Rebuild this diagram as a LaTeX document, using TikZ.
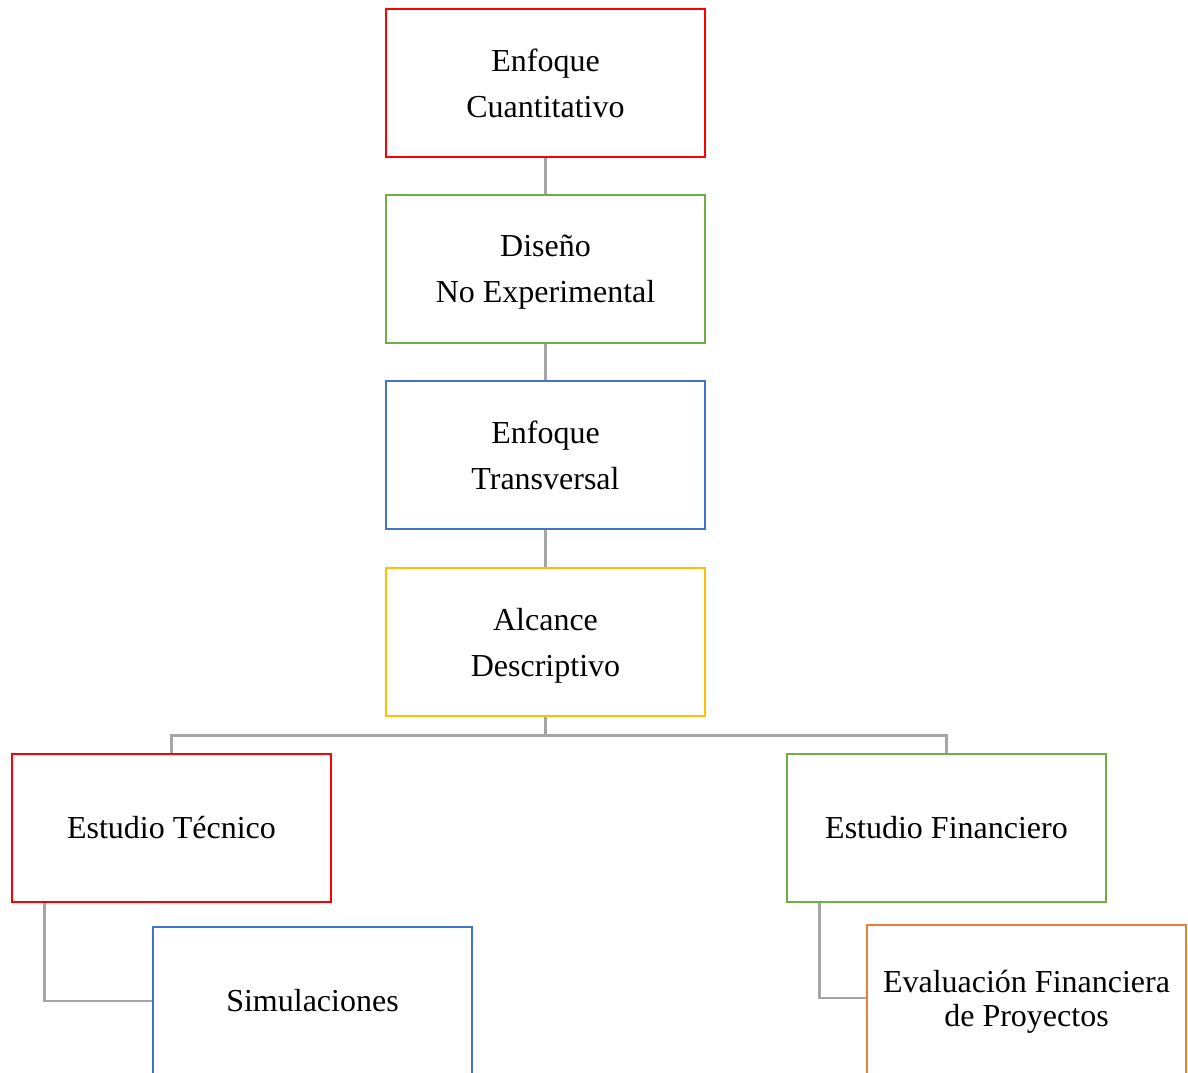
\documentclass[tikz,border=0pt]{standalone}
\usepackage{fontspec}
\setmainfont{Liberation Serif}
\usetikzlibrary{backgrounds}
\definecolor{cRed}{HTML}{FF0000}
\definecolor{cGreen}{HTML}{70AD47}
\definecolor{cBlue}{HTML}{4472C4}
\definecolor{cYellow}{HTML}{FFC000}
\definecolor{cOrange}{HTML}{ED7D31}
\definecolor{cLink}{HTML}{A5A5A5}
\tikzset{
  boxtext/.style={inner sep=0pt, align=center, font=\fontsize{24}{34.5}\selectfont},
  box/.style={boxtext, draw=#1, line width=2.1pt, minimum width=239.25pt, minimum height=111pt},
  tallbox/.style={draw=#1, line width=2.1pt, minimum width=239.25pt, minimum height=135pt, inner sep=0pt},
  link/.style={draw=cLink, line width=2pt},
}
\begin{document}
\begin{tikzpicture}[x=0.75pt, y=-0.75pt]
\useasboundingbox (0,0) rectangle (1188,1072);
\clip (0,0) rectangle (1188,1072);
% main column
\node[box=cRed]    (a) at (545.5,83)  {Enfoque\\Cuantitativo};
\node[box=cGreen]  (b) at (545.5,269) {Diseño\\\smash{No Experimental}};
\node[box=cBlue]   (c) at (545.5,455) {Enfoque\\Transversal};
\node[box=cYellow] (d) at (545.5,642) {Alcance\\\smash{Descriptivo}};
% branches
\node[box=cRed]    (e) at (171.5,828) {Estudio Técnico};
\node[box=cGreen]  (f) at (946.5,828) {Estudio Financiero};
% lower boxes run past the bottom edge
\node[tallbox=cBlue]   (g) at (312.5,1017) {};
\node[tallbox=cOrange] (h) at (1026.5,1015) {};
\node[boxtext] (gt) at (312.5,1001) {Simulaciones};
\node[boxtext] (ht) at (1026.5,998) {Evaluación Financiera\\[-9pt]\smash{de Proyectos}};
\begin{scope}[on background layer]
\draw[link] (a) -- (b);
\draw[link] (b) -- (c);
\draw[link] (c) -- (d);
\draw[link] (d.south) -- ++(0,18) -| (e.north);
\draw[link] (d.south) -- ++(0,18) -| (f.north);
\draw[link] ([xshift=25.5pt]e.south west) |- (g.west |- gt);
\draw[link] ([xshift=25.5pt]f.south west) |- (h.west |- ht);
\end{scope}
\end{tikzpicture}
\end{document}
